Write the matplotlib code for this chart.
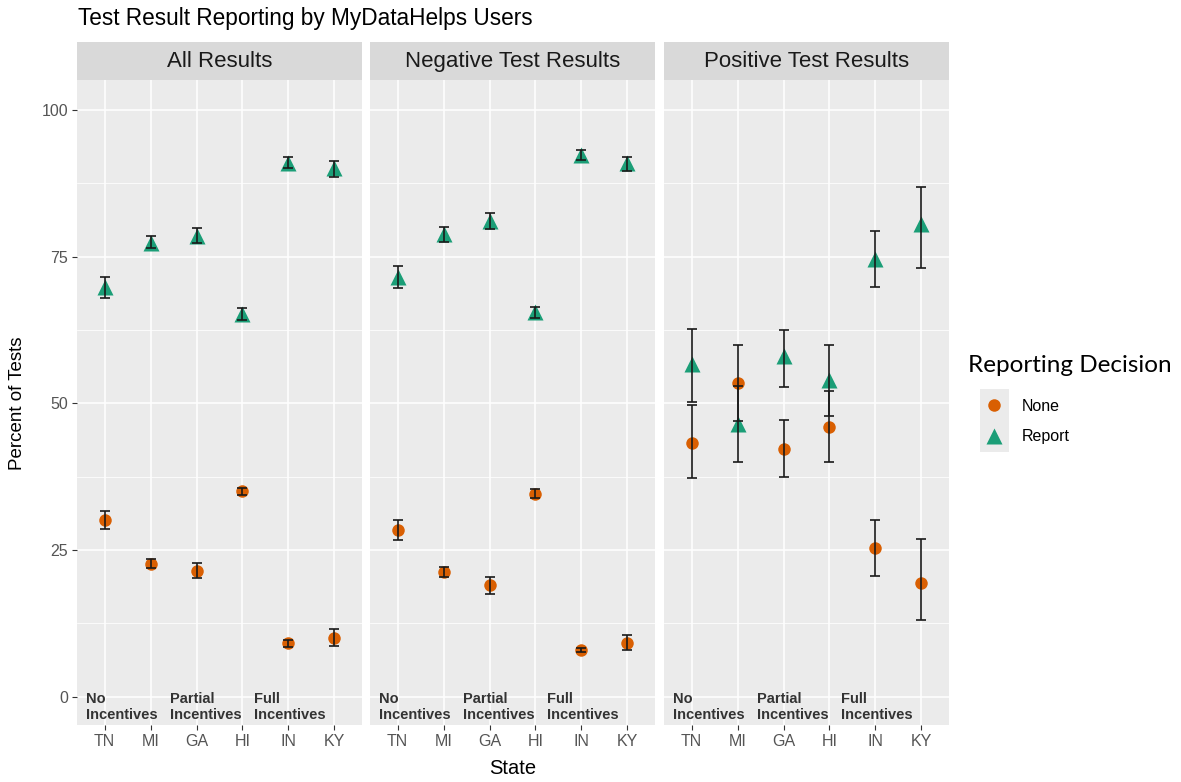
import matplotlib
matplotlib.use('Agg')
import matplotlib.pyplot as plt

# data
states = ['TN', 'MI', 'GA', 'HI', 'IN', 'KY']
facets = ['All Results', 'Negative Test Results', 'Positive Test Results']
groups = ['No\nIncentives', 'Partial\nIncentives', 'Full\nIncentives']

# All Results
none_all = [30.2, 22.7, 21.4, 35.0, 9.1, 10.1]
none_all_lo = [28.6, 21.9, 20.2, 34.4, 8.5, 8.7]
none_all_hi = [31.7, 23.5, 22.8, 35.6, 9.7, 11.6]
report_all = [69.8, 77.3, 78.5, 65.2, 91.0, 90.1]
report_all_lo = [68.0, 76.5, 77.3, 64.2, 90.1, 88.6]
report_all_hi = [71.5, 78.5, 79.9, 66.3, 91.9, 91.3]

# Negative Test Results
none_neg = [28.4, 21.3, 19.0, 34.6, 8.0, 9.2]
none_neg_lo = [26.8, 20.5, 17.6, 33.9, 7.6, 8.0]
none_neg_hi = [30.2, 22.1, 20.4, 35.4, 8.4, 10.6]
report_neg = [71.6, 78.9, 81.1, 65.6, 92.3, 90.9]
report_neg_lo = [69.7, 77.5, 79.7, 64.6, 91.4, 89.6]
report_neg_hi = [73.4, 80.1, 82.4, 66.4, 93.2, 92.0]

# Positive Test Results
none_pos = [43.3, 53.5, 42.2, 46.0, 25.4, 19.4]
none_pos_lo = [37.3, 47.0, 37.5, 40.0, 20.6, 13.1]
none_pos_hi = [49.7, 60.0, 47.2, 52.1, 30.2, 26.9]
report_pos = [56.7, 46.5, 58.0, 54.0, 74.6, 80.6]
report_pos_lo = [50.3, 40.0, 52.8, 47.9, 69.8, 73.1]
report_pos_hi = [62.7, 53.0, 62.5, 60.0, 79.4, 86.9]

none_vals = [none_all, none_neg, none_pos]
none_los = [none_all_lo, none_neg_lo, none_pos_lo]
none_his = [none_all_hi, none_neg_hi, none_pos_hi]
report_vals = [report_all, report_neg, report_pos]
report_los = [report_all_lo, report_neg_lo, report_pos_lo]
report_his = [report_all_hi, report_neg_hi, report_pos_hi]

plt.rcParams['font.family'] = ['Liberation Sans', 'DejaVu Sans']

W, H = 1181, 782
C_NONE = '#D95F02'
C_REPORT = '#1B9E77'
GRAY_TXT = '#555555'

fig = plt.figure(figsize=(W / 100, H / 100), dpi=100)


def box(x0, y0, x1, y1):
    # pixel box -> figure fraction rect
    return [x0 / W, 1 - y1 / H, (x1 - x0) / W, (y1 - y0) / H]


lefts = [77, 370, 664]
pw = 285
ptop, pbot = 80, 725
xs = list(range(1, len(states) + 1))

for i, name in enumerate(facets):
    ax = fig.add_axes(box(lefts[i], ptop, lefts[i] + pw, pbot))
    ax.set_facecolor('#EBEBEB')
    for s in ax.spines.values():
        s.set_visible(False)
    ax.set_xlim(0.4, 6.6)
    ax.set_ylim(-4.8, 105.1)
    ax.set_yticks([0, 25, 50, 75, 100])
    ax.set_yticks([12.5, 37.5, 62.5, 87.5], minor=True)
    ax.set_xticks(xs)
    ax.set_xticklabels(states)
    ax.grid(which='major', color='white', lw=1.1)
    ax.grid(which='minor', axis='y', color='white', lw=0.55)
    ax.set_axisbelow(True)
    ax.tick_params(which='major', length=3.5, color='#333333', labelsize=11.5,
                   labelcolor=GRAY_TXT, pad=3)
    ax.tick_params(which='minor', length=0)
    if i > 0:
        ax.tick_params(axis='y', left=False, labelleft=False)

    ax.plot(xs, none_vals[i], 'o', color=C_NONE, ms=9, mec='none', zorder=3)
    ax.plot(xs, report_vals[i], '^', color=C_REPORT, ms=11, mec='none', zorder=3)
    for v, lo, hi in [(none_vals[i], none_los[i], none_his[i]),
                      (report_vals[i], report_los[i], report_his[i])]:
        err = [[a - b for a, b in zip(v, lo)], [b - a for a, b in zip(v, hi)]]
        ax.errorbar(xs, v, yerr=err, fmt='none', ecolor='#1A1A1A', elinewidth=1.2,
                    capsize=3.3, capthick=1.2, zorder=4)

    for gx, g in zip([0.6, 2.42, 4.26], groups):
        ax.text(gx, -1.7, g, ha='left', va='center', fontsize=10.5, fontweight='bold',
                color='#333333', linespacing=1.15, zorder=5)

    # facet strip
    sax = fig.add_axes(box(lefts[i], 42, lefts[i] + pw, ptop))
    sax.set_facecolor('#D9D9D9')
    sax.set_xticks([])
    sax.set_yticks([])
    for s in sax.spines.values():
        s.set_visible(False)
    sax.text(0.5, 0.48, name, ha='center', va='center', fontsize=16, color='#1A1A1A',
             transform=sax.transAxes)

fig.text(78 / W, 1 - 18 / H, 'Test Result Reporting by MyDataHelps Users',
         ha='left', va='center', fontsize=16.3, color='black')
fig.text(513 / W, 1 - 768 / H, 'State', ha='center', va='center', fontsize=14.5)
fig.text(18 / W, 1 - 403 / H, 'Percent of Tests', ha='center', va='center',
         rotation=90, fontsize=13.5)

# legend
fig.text(968 / W, 1 - 366 / H, 'Reporting Decision', ha='left', va='center',
         fontsize=17.5, family=['Lato', 'DejaVu Sans'])
lax = fig.add_axes(box(980, 389, 1009, 452))
lax.set_facecolor('#EBEBEB')
lax.set_xlim(0, 1)
lax.set_ylim(0, 2)
lax.set_xticks([])
lax.set_yticks([])
for s in lax.spines.values():
    s.set_visible(False)
lax.plot([0.5], [1.5], 'o', color=C_NONE, ms=9, mec='none')
lax.plot([0.5], [0.5], '^', color=C_REPORT, ms=11, mec='none')
fig.text(1022 / W, 1 - 406 / H, 'None', ha='left', va='center', fontsize=11.5)
fig.text(1022 / W, 1 - 437 / H, 'Report', ha='left', va='center', fontsize=11.5)

fig.savefig('out.png', dpi=100)
